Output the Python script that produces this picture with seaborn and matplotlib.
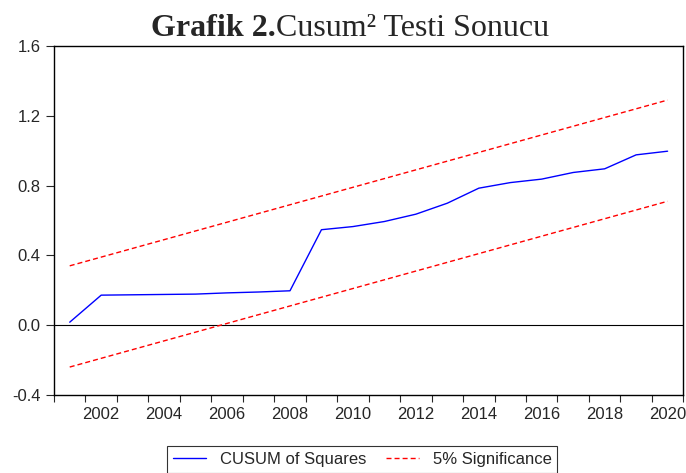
import matplotlib
matplotlib.use("Agg")
import matplotlib.pyplot as plt
import matplotlib.ticker as mticker
import seaborn as sns
import pandas as pd

# Values
years = list(range(2001, 2021))
cusum_sq = [0.017, 0.172, 0.174, 0.176, 0.178, 0.185, 0.19, 0.197, 0.547, 0.565,
            0.594, 0.636, 0.699, 0.785, 0.817, 0.837, 0.875, 0.896, 0.976, 0.997]
upper_5 = [0.34, 0.39, 0.44, 0.49, 0.54, 0.59, 0.64, 0.69, 0.74, 0.79,
           0.84, 0.89, 0.94, 0.99, 1.04, 1.09, 1.14, 1.19, 1.24, 1.29]
lower_5 = [-0.24, -0.19, -0.14, -0.09, -0.04, 0.01, 0.06, 0.11, 0.16, 0.21,
           0.26, 0.31, 0.36, 0.41, 0.46, 0.51, 0.56, 0.61, 0.66, 0.71]
y_ticks = [-0.4, 0.0, 0.4, 0.8, 1.2, 1.6]
x_labels = list(range(2002, 2021, 2))

df = pd.DataFrame({"Year": years, "cusum": cusum_sq, "upper": upper_5, "lower": lower_5})

sns.set_style("white")
plt.rcParams["font.family"] = ["Liberation Sans", "DejaVu Sans"]

fig = plt.figure(figsize=(6.86, 4.73), dpi=100)
ax = fig.add_axes([0.0787, 0.165, 0.9174, 0.7378])

sns.lineplot(data=df, x="Year", y="cusum", ax=ax, color="#0000FF", linewidth=1.0,
             label="CUSUM of Squares")
sns.lineplot(data=df, x="Year", y="upper", ax=ax, color="#FF0000", linewidth=1.0,
             dashes=False, label="5% Significance")
ax.lines[-1].set_dashes((3.6, 2.2))
sns.lineplot(data=df, x="Year", y="lower", ax=ax, color="#FF0000", linewidth=1.0,
             legend=False)
ax.lines[-1].set_dashes((3.6, 2.2))
ax.axhline(0, color="black", linewidth=0.8, zorder=1)

ax.set_xlim(2000.5, 2020.5)
ax.set_ylim(-0.4, 1.6)
ax.set_xlabel("")
ax.set_ylabel("")

ax.set_yticks(y_ticks)
ax.yaxis.set_major_formatter(mticker.FormatStrFormatter("%.1f"))
ax.set_xticks(x_labels)
ax.set_xticks([y + 0.5 for y in range(2000, 2021)], minor=True)
ax.tick_params(axis="x", which="major", length=0, pad=9, labelsize=12)
ax.tick_params(axis="x", which="minor", length=5, width=0.8, direction="out", bottom=True)
ax.tick_params(axis="y", length=6, width=0.8, direction="out", left=True, labelsize=12)

for s in ax.spines.values():
    s.set_color("black")
    s.set_linewidth(1.0)

handles, labels = ax.get_legend_handles_labels()
ax.legend_.remove()
leg = fig.legend(handles, labels, loc="upper center", bbox_to_anchor=(0.528, 0.075),
                 ncol=2, fontsize=12, frameon=True, fancybox=False, edgecolor="black",
                 handlelength=2.0, columnspacing=1.2, borderpad=0.35)
leg.get_frame().set_linewidth(0.8)

# Title: bold "Grafik 2." followed by regular text
fig.canvas.draw()
renderer = fig.canvas.get_renderer()
t1 = fig.text(0, 0.94, "Grafik 2.", fontsize=23, fontweight="bold",
              family="Liberation Serif", va="center", ha="left")
t2 = fig.text(0, 0.94, "Cusum² Testi Sonucu", fontsize=23,
              family="Liberation Serif", va="center", ha="left")
w1 = t1.get_window_extent(renderer).width
w2 = t2.get_window_extent(renderer).width
W = fig.bbox.width
start = 350 - (w1 + w2) / 2
t1.set_x(start / W)
t2.set_x((start + w1) / W)

fig.savefig("out.png", dpi=100)
